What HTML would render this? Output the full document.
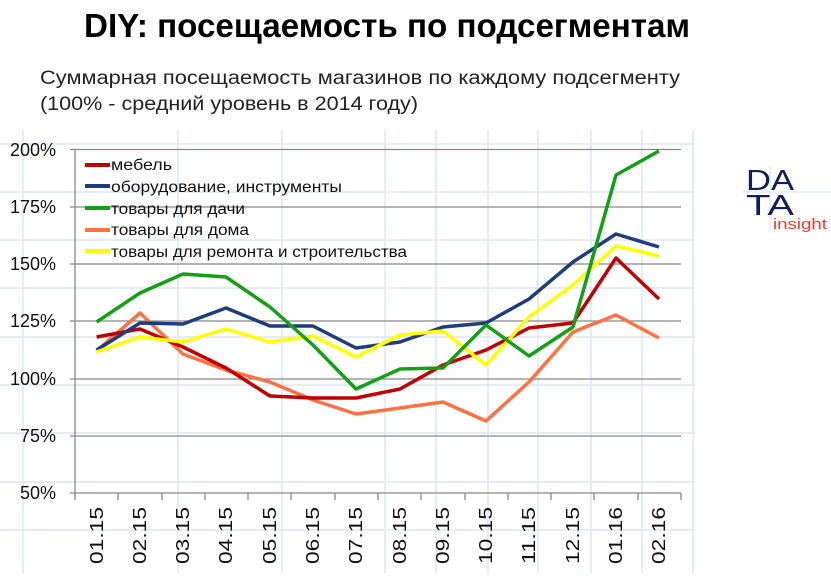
<!DOCTYPE html>
<html><head><meta charset="utf-8"><style>
body{margin:0;background:#fff;}
svg text{font-family:"Liberation Sans","DejaVu Sans",sans-serif;}
</style></head><body>
<svg width="831" height="573" xmlns="http://www.w3.org/2000/svg">
<g stroke="#dde6f2" stroke-width="1.5">
<line x1="23" y1="0" x2="23" y2="573"/><line x1="178" y1="0" x2="178" y2="573"/><line x1="282" y1="0" x2="282" y2="573"/><line x1="385" y1="0" x2="385" y2="573"/><line x1="436" y1="0" x2="436" y2="573"/><line x1="488" y1="0" x2="488" y2="573"/><line x1="538" y1="0" x2="538" y2="573"/><line x1="591" y1="0" x2="591" y2="573"/><line x1="642" y1="0" x2="642" y2="573"/><line x1="693" y1="0" x2="693" y2="573"/>
<line x1="0" y1="48" x2="695" y2="48"/><line x1="0" y1="96" x2="695" y2="96"/><line x1="0" y1="144" x2="695" y2="144"/><line x1="0" y1="192" x2="695" y2="192"/><line x1="0" y1="240" x2="695" y2="240"/><line x1="0" y1="288" x2="695" y2="288"/><line x1="0" y1="337" x2="695" y2="337"/><line x1="0" y1="385" x2="695" y2="385"/><line x1="0" y1="433" x2="695" y2="433"/><line x1="0" y1="482" x2="695" y2="482"/><line x1="0" y1="530" x2="695" y2="530"/>
</g>
<rect x="0" y="0" width="695" height="130" fill="#fff"/>
<text x="84" y="37" font-size="33" font-weight="bold" fill="#000" textLength="606" lengthAdjust="spacingAndGlyphs">DIY: посещаемость по подсегментам</text>
<text x="40" y="84" font-size="19" fill="#222" textLength="640" lengthAdjust="spacingAndGlyphs">Суммарная посещаемость магазинов по каждому подсегменту</text>
<text x="40" y="110" font-size="19" fill="#222" textLength="378" lengthAdjust="spacingAndGlyphs">(100% - средний уровень в 2014 году)</text>
<g stroke="#888" stroke-width="1.3">
<line x1="70" y1="149.5" x2="681" y2="149.5"/><line x1="70" y1="207" x2="681" y2="207"/><line x1="70" y1="264" x2="681" y2="264"/><line x1="70" y1="321" x2="681" y2="321"/><line x1="70" y1="379" x2="681" y2="379"/><line x1="70" y1="436" x2="681" y2="436"/><line x1="70" y1="493" x2="681" y2="493"/>
<line x1="75" y1="149" x2="75" y2="493"/>
</g>
<g stroke="#888" stroke-width="1.3">
<line x1="75" y1="493" x2="75" y2="500"/><line x1="118" y1="493" x2="118" y2="500"/><line x1="162" y1="493" x2="162" y2="500"/><line x1="205" y1="493" x2="205" y2="500"/><line x1="248" y1="493" x2="248" y2="500"/><line x1="291" y1="493" x2="291" y2="500"/><line x1="335" y1="493" x2="335" y2="500"/><line x1="378" y1="493" x2="378" y2="500"/><line x1="421" y1="493" x2="421" y2="500"/><line x1="465" y1="493" x2="465" y2="500"/><line x1="508" y1="493" x2="508" y2="500"/><line x1="551" y1="493" x2="551" y2="500"/><line x1="594" y1="493" x2="594" y2="500"/><line x1="638" y1="493" x2="638" y2="500"/><line x1="681" y1="493" x2="681" y2="500"/>
</g>
<g font-size="18" fill="#111" text-anchor="end">
<text x="56" y="156">200%</text><text x="56" y="213">175%</text><text x="56" y="270">150%</text><text x="56" y="327">125%</text><text x="56" y="385">100%</text><text x="56" y="442">75%</text><text x="56" y="499">50%</text>
</g>
<g font-size="18" fill="#111" text-anchor="end">
<text transform="translate(103,507) rotate(-90)" textLength="57" lengthAdjust="spacingAndGlyphs">01.15</text>
<text transform="translate(146,507) rotate(-90)" textLength="57" lengthAdjust="spacingAndGlyphs">02.15</text>
<text transform="translate(189,507) rotate(-90)" textLength="57" lengthAdjust="spacingAndGlyphs">03.15</text>
<text transform="translate(232,507) rotate(-90)" textLength="57" lengthAdjust="spacingAndGlyphs">04.15</text>
<text transform="translate(276,507) rotate(-90)" textLength="57" lengthAdjust="spacingAndGlyphs">05.15</text>
<text transform="translate(319,507) rotate(-90)" textLength="57" lengthAdjust="spacingAndGlyphs">06.15</text>
<text transform="translate(362,507) rotate(-90)" textLength="57" lengthAdjust="spacingAndGlyphs">07.15</text>
<text transform="translate(406,507) rotate(-90)" textLength="57" lengthAdjust="spacingAndGlyphs">08.15</text>
<text transform="translate(449,507) rotate(-90)" textLength="57" lengthAdjust="spacingAndGlyphs">09.15</text>
<text transform="translate(492,507) rotate(-90)" textLength="57" lengthAdjust="spacingAndGlyphs">10.15</text>
<text transform="translate(535,507) rotate(-90)" textLength="57" lengthAdjust="spacingAndGlyphs">11.15</text>
<text transform="translate(579,507) rotate(-90)" textLength="57" lengthAdjust="spacingAndGlyphs">12.15</text>
<text transform="translate(622,507) rotate(-90)" textLength="57" lengthAdjust="spacingAndGlyphs">01.16</text>
<text transform="translate(665,507) rotate(-90)" textLength="57" lengthAdjust="spacingAndGlyphs">02.16</text>
</g>
<g fill="none" stroke-width="3.5" stroke-linejoin="round">
<polyline stroke="#ff7043" points="96.6,351 140,313 183,354 226,370 270,382 313,400 356,414 400,408 443,402 486,421 529,382 573,332 616,315 659,338"/>
<polyline stroke="#c00000" points="96.6,337 140,329 183,347 226,368 270,396 313,398 356,398 400,389 443,365 486,350 529,328 573,323 616,258 659,299"/>
<polyline stroke="#1f3d7a" points="96.6,350 140,323 183,324 226,308 270,326 313,326 356,348 400,342 443,327 486,323 529,299 573,262 616,234 659,247"/>
<polyline stroke="#ffff00" points="96.6,352 140,337 183,342 226,329 270,342 313,336 356,357 400,335 443,331 486,365 529,317 573,285 616,246 659,256"/>
<polyline stroke="#14a014" points="96.6,322 140,293 183,274 226,277 270,307 313,345 356,389 400,369 443,368 486,325 529,356 573,327 616,175 659,151"/>
</g>
<g stroke-width="4">
<line x1="85" y1="165" x2="110" y2="165" stroke="#c00000"/>
<line x1="85" y1="186" x2="110" y2="186" stroke="#1f3d7a"/>
<line x1="85" y1="208" x2="110" y2="208" stroke="#14a014"/>
<line x1="85" y1="230" x2="110" y2="230" stroke="#ff7043"/>
<line x1="85" y1="251" x2="110" y2="251" stroke="#ffff00"/>
</g>
<g font-size="16" fill="#111">
<text x="111" y="170" textLength="61" lengthAdjust="spacingAndGlyphs">мебель</text>
<text x="111" y="192" textLength="231" lengthAdjust="spacingAndGlyphs">оборудование, инструменты</text>
<text x="111" y="214" textLength="134" lengthAdjust="spacingAndGlyphs">товары для дачи</text>
<text x="111" y="235" textLength="138" lengthAdjust="spacingAndGlyphs">товары для дома</text>
<text x="111" y="257" textLength="296" lengthAdjust="spacingAndGlyphs">товары для ремонта и строительства</text>
</g>
<line x1="743" y1="192" x2="831" y2="192" stroke="#cfe0ea" stroke-width="1"/>
<line x1="770" y1="165" x2="770" y2="233" stroke="#cfe0ea" stroke-width="1"/>
<g font-size="29" fill="#141c5a">
<text x="746" y="190" textLength="48" lengthAdjust="spacingAndGlyphs">DA</text>
<text x="746" y="215" textLength="48" lengthAdjust="spacingAndGlyphs">TA</text>
</g>
<text x="773" y="229" font-size="15" fill="#f03a2a" textLength="54" lengthAdjust="spacingAndGlyphs">insight</text>
</svg>
</body></html>
